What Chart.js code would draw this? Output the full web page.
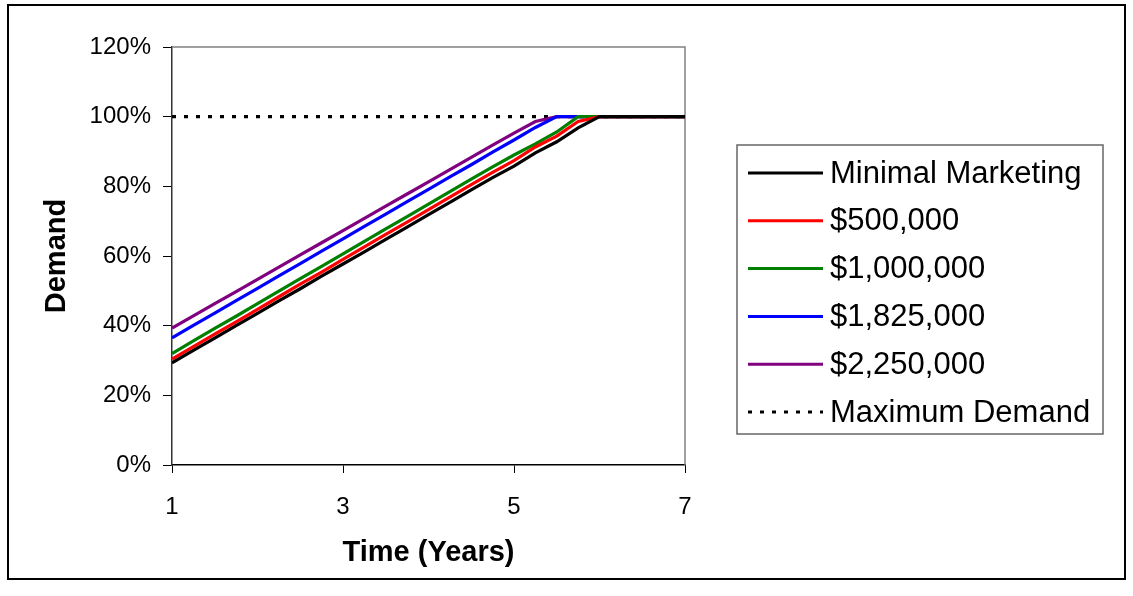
<!DOCTYPE html>
<html>
<head>
<meta charset="utf-8">
<script src="https://cdn.jsdelivr.net/npm/chart.js@4"></script>
<style>
  html, body { margin: 0; padding: 0; background: #fff; }
  canvas { display: block; }
</style>
</head>
<body>
<canvas id="c" width="1133" height="596"></canvas>
<script>
// Time axis (years), sampled every quarter
const years = [1, 1.25, 1.5, 1.75, 2, 2.25, 2.5, 2.75, 3, 3.25, 3.5, 3.75, 4,
               4.25, 4.5, 4.75, 5, 5.25, 5.5, 5.75, 6, 6.25, 6.5, 6.75, 7];

// Demand (% of maximum) for each marketing budget
const minimalMarketing = [29.3, 32.9, 36.4, 40.0, 43.5, 47.1, 50.6, 54.2, 57.7, 61.2, 64.8, 68.3, 71.9,
                          75.4, 79.0, 82.5, 85.8, 89.6, 92.8, 96.8, 100, 100, 100, 100, 100];
const budget500k = [30.4, 34.0, 37.6, 41.1, 44.7, 48.3, 51.9, 55.4, 59.0, 62.6, 66.2, 69.7, 73.3,
                    76.9, 80.5, 84.0, 87.4, 91.3, 94.4, 98.6, 100, 100, 100, 100, 100];
const budget1m = [32.0, 35.6, 39.2, 42.7, 46.3, 49.9, 53.5, 57.0, 60.6, 64.2, 67.8, 71.3, 74.9,
                  78.5, 82.1, 85.6, 89.0, 92.2, 95.6, 100, 100, 100, 100, 100, 100];
const budget1825k = [36.5, 40.1, 43.6, 47.2, 50.7, 54.3, 57.8, 61.4, 64.9, 68.5, 72.0, 75.6, 79.1,
                     82.7, 86.2, 89.8, 93.3, 96.9, 100, 100, 100, 100, 100, 100, 100];
const budget2250k = [39.3, 42.8, 46.3, 49.8, 53.3, 56.8, 60.3, 63.8, 67.3, 70.8, 74.3, 77.8, 81.3,
                     84.8, 88.3, 91.8, 95.3, 98.6, 100, 100, 100, 100, 100, 100, 100];
const maxDemandYears = [1, 7];
const maxDemand = [100, 100];

const seriesLabels = ['Minimal Marketing', '$500,000', '$1,000,000', '$1,825,000', '$2,250,000', 'Maximum Demand'];
const yTicks = [0, 20, 40, 60, 80, 100, 120];
const xTicks = [1, 3, 5, 7];

const FONT = '"Liberation Sans", Arial, sans-serif';
const pts = (xs, ys) => xs.map((x, i) => ({ x: x, y: ys[i] }));

function lineSet(label, xs, ys, color, dash) {
  return {
    label: label,
    data: pts(xs, ys),
    borderColor: color,
    backgroundColor: color,
    borderWidth: 3.2,
    borderDash: dash || [],
    pointRadius: 0,
    tension: 0,
    fill: false
  };
}

// Frame, plot border, axis titles and the boxed legend on the right
const decor = {
  id: 'decor',
  beforeDatasetsDraw(chart) {
    const { ctx, chartArea: a } = chart;
    ctx.save();
    ctx.strokeStyle = '#808080';
    ctx.lineWidth = 1.5;
    ctx.beginPath();
    ctx.moveTo(a.left, a.top);
    ctx.lineTo(a.right, a.top);
    ctx.lineTo(a.right, a.bottom);
    ctx.stroke();
    ctx.restore();
  },
  afterDraw(chart) {
    const { ctx, chartArea: a } = chart;
    ctx.save();
    // outer frame
    ctx.strokeStyle = '#000';
    ctx.lineWidth = 2;
    ctx.strokeRect(8, 5, 1117, 574);

    // axis titles
    ctx.fillStyle = '#000';
    ctx.font = 'bold 29px ' + FONT;
    ctx.textAlign = 'center';
    ctx.textBaseline = 'middle';
    ctx.fillText('Time (Years)', (a.left + a.right) / 2, 553);
    ctx.save();
    ctx.translate(57, (a.top + a.bottom) / 2);
    ctx.rotate(-Math.PI / 2);
    ctx.fillText('Demand', 0, 0);
    ctx.restore();

    // legend
    const box = { x: 737, y: 145, w: 366, h: 289 };
    ctx.strokeStyle = '#666';
    ctx.lineWidth = 1.5;
    ctx.strokeRect(box.x, box.y, box.w, box.h);
    ctx.font = '31px ' + FONT;
    ctx.textAlign = 'left';
    ctx.textBaseline = 'middle';
    chart.data.datasets.forEach((ds, i) => {
      const y = 173 + i * 47.8;
      ctx.strokeStyle = ds.borderColor;
      ctx.lineWidth = 3;
      ctx.setLineDash(ds.borderDash || []);
      ctx.beginPath();
      ctx.moveTo(748, y);
      ctx.lineTo(823, y);
      ctx.stroke();
      ctx.setLineDash([]);
      ctx.fillStyle = '#000';
      ctx.fillText(ds.label, 830, y + 1);
    });
    ctx.restore();
  }
};

new Chart(document.getElementById('c'), {
  type: 'line',
  data: {
    datasets: [
      lineSet(seriesLabels[0], years, minimalMarketing, '#000000'),
      lineSet(seriesLabels[1], years, budget500k, '#FF0000'),
      lineSet(seriesLabels[2], years, budget1m, '#008000'),
      lineSet(seriesLabels[3], years, budget1825k, '#0000FF'),
      lineSet(seriesLabels[4], years, budget2250k, '#800080'),
      lineSet(seriesLabels[5], maxDemandYears, maxDemand, '#000000', [4, 8])
    ]
  },
  options: {
    responsive: false,
    animation: false,
    layout: { padding: { left: 0, top: 47, right: 448, bottom: 0 } },
    plugins: { legend: { display: false }, tooltip: { enabled: false } },
    scales: {
      x: {
        type: 'linear',
        min: 1,
        max: 7,
        afterBuildTicks: s => { s.ticks = xTicks.map(v => ({ value: v })); },
        afterFit: s => { s.height = 131; },
        ticks: { color: '#000', font: { family: FONT, size: 24 }, padding: 20, maxRotation: 0 },
        grid: { drawOnChartArea: false, drawTicks: true, tickLength: 8, color: '#000', lineWidth: 1 },
        border: { color: '#000', width: 1.5 }
      },
      y: {
        min: 0,
        max: 120,
        afterBuildTicks: s => { s.ticks = yTicks.map(v => ({ value: v })); },
        afterFit: s => { s.width = 172; },
        ticks: { color: '#000', font: { family: FONT, size: 24 }, padding: 12, callback: v => v + '%' },
        grid: { drawOnChartArea: false, drawTicks: true, tickLength: 9, color: '#000', lineWidth: 1 },
        border: { color: '#333', width: 1.5 }
      }
    }
  },
  plugins: [decor]
});
</script>
</body>
</html>
